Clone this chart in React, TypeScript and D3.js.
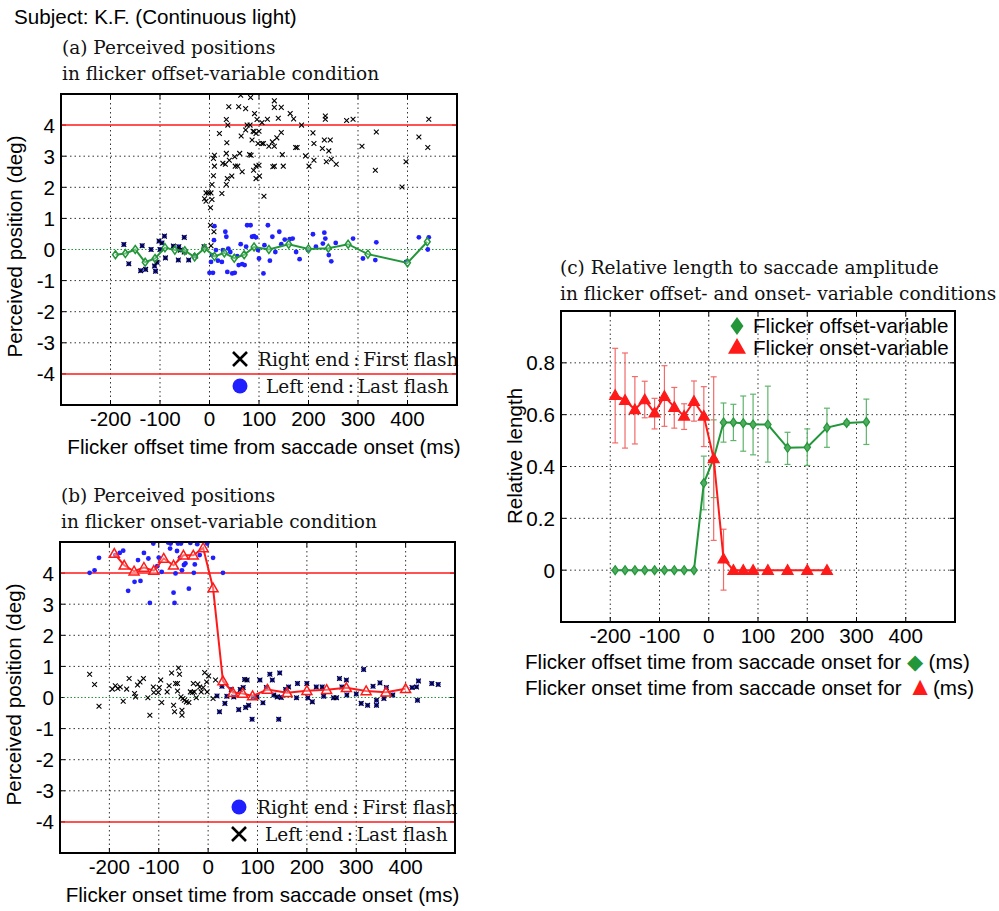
import * as d3 from "d3";

const SANS = "Liberation Sans, Arial, Helvetica, sans-serif";
const SERIF = "DejaVu Serif, serif";
const FS = 20.6;
const GREEN = "#23963a";
const RED = "#ff1a1a";
const BLUE = "#1f1fff";

const timeTicks = [-200, -100, 0, 100, 200, 300, 400];
const posTicks = [-4, -3, -2, -1, 0, 1, 2, 3, 4];
const relTicks = [0, 0.2, 0.4, 0.6, 0.8];

// (a) flicker offset-variable
const offsetMeanTime = [-190, -170, -150, -130, -110, -90, -70, -50, -30, -10, 10, 30, 50, 70, 90, 120, 160, 200, 240, 280, 320, 400, 440];
const offsetMeanPos = [-0.17, -0.13, 0.0, -0.41, -0.29, 0.06, -0.02, -0.04, -0.24, 0.04, -0.22, -0.11, -0.28, -0.17, 0.08, 0.0, 0.17, 0.02, 0.04, 0.17, -0.15, -0.43, 0.25];
// trials where both ends coincide (drawn with both markers)
const offsetPairs = [
  [-173, 0.16], [-163, -0.46], [-139, -0.68], [-129, -0.64], [-136, 0.12], [-118, 0.0], [-111, -0.53], [-109, -0.7],
  [-106, -0.41], [-102, 0.27], [-100, 0.0], [-96, 0.21], [-91, 0.43], [-89, -0.27], [-73, 0.11], [-62, 0.09],
  [-63, -0.34], [-59, -0.02], [-51, 0.39], [-51, -0.08], [-42, -0.34], [-28, -0.21], [-11, 0.09],
];
const offsetFirstFlash = [
  [3, 0.12], [9, 0.57], [2, 0.78], [2, 1.34], [5, 1.61], [-7, 1.55], [-10, 1.63], [-7, 1.82], [-2, 1.82], [3, 1.82],
  [5, 2.09], [8, 2.37], [10, 2.68], [8, 2.93], [10, 3.03], [25, 1.8], [34, 2.09], [36, 2.28], [45, 2.36], [27, 2.77],
  [32, 2.74], [34, 3.09], [40, 2.87], [51, 2.98], [52, 2.68], [57, 2.68], [61, 3.09], [66, 2.5], [81, 3.05], [84, 3.03],
  [100, 2.71], [94, 2.68], [89, 2.55], [94, 2.28], [101, 2.36], [110, 1.71], [20, 3.73], [35, 3.43], [34, 4.18], [37, 4.0],
  [39, 4.59], [59, 4.59], [63, 4.96], [73, 4.53], [83, 4.89], [91, 4.37], [96, 4.18], [106, 4.08], [117, 4.19], [131, 4.78],
  [131, 4.57], [145, 4.57], [139, 4.22], [163, 4.37], [170, 4.2], [186, 4.0], [234, 4.29], [234, 4.19], [277, 4.15], [290, 4.19],
  [443, 4.19], [76, 4.0], [82, 4.0], [88, 3.8], [90, 3.79], [94, 3.73], [100, 3.8], [98, 3.41], [106, 3.41], [86, 3.52],
  [64, 3.65], [73, 3.84], [145, 3.76], [136, 3.59], [127, 3.46], [120, 3.32], [131, 3.32], [109, 3.41], [147, 3.05], [128, 2.66],
  [131, 2.68], [149, 2.68], [174, 3.28], [177, 3.28], [194, 3.01], [201, 2.68], [211, 2.87], [211, 3.41], [209, 3.75], [228, 3.25],
  [232, 3.52], [244, 3.52], [241, 3.17], [246, 2.9], [236, 2.82], [256, 2.74], [308, 3.32], [337, 3.78], [335, 2.55], [389, 2.01],
  [397, 2.82], [423, 3.62], [441, 3.28],
];
const offsetLastFlash = [
  [0, -0.75], [7, -0.75], [3, -0.4], [5, -0.18], [9, 0.3], [10, 0.75], [13, -0.02], [17, -0.36], [25, -0.4], [27, -0.02],
  [32, 0.57], [34, 0.41], [36, -0.72], [38, 0.03], [42, -0.08], [46, -0.77], [51, -0.75], [56, -0.21], [59, -0.5], [63, 0.17],
  [66, -0.47], [71, -0.5], [74, 0.09], [76, 0.78], [83, 0.78], [86, 0.41], [90, 0.43], [94, 0.39], [98, -0.02], [100, -0.29],
  [109, -0.77], [111, 0.14], [118, 0.78], [122, -0.36], [127, 0.41], [133, -0.08], [141, 0.57], [145, 0.17], [152, 0.32], [162, 0.33],
  [168, 0.35], [175, -0.08], [182, -0.31], [199, -0.02], [209, 0.49], [215, 0.09], [229, 0.19], [232, 0.54], [234, 0.35], [241, -0.18],
  [246, -0.38], [255, 0.21], [290, 0.35], [310, -0.29], [337, 0.23], [335, -0.34], [397, -0.4], [423, 0.39], [443, 0.39], [441, 0.0],
];

// (b) flicker onset-variable
const onsetMeanTime = [-190, -170, -150, -130, -110, -90, -70, -50, -30, -10, 10, 30, 50, 70, 90, 120, 160, 200, 240, 280, 320, 360, 400];
const onsetMeanPos = [4.63, 4.25, 4.06, 4.18, 4.08, 4.47, 4.25, 4.57, 4.57, 4.81, 3.52, 0.53, 0.16, 0.13, 0.05, 0.26, 0.15, 0.22, 0.25, 0.31, 0.21, 0.17, 0.28];
const onsetFirstFlash = [
  [-240, 4.01], [-230, 4.09], [-221, 4.49], [-188, 4.58], [-179, 4.65], [-172, 4.72], [-162, 3.43], [-149, 3.72], [-137, 3.75], [-142, 4.42],
  [-130, 4.65], [-121, 4.47], [-118, 3.04], [-111, 4.95], [-103, 4.22], [-100, 4.5], [-94, 4.04], [-81, 4.98], [-76, 4.95], [-77, 4.79],
  [-70, 3.37], [-68, 3.04], [-66, 3.99], [-63, 4.71], [-57, 4.5], [-61, 4.95], [-55, 4.95], [-53, 4.09], [-49, 4.26], [-46, 4.31],
  [-39, 3.5], [-36, 4.97], [-29, 4.01], [-27, 4.28], [-22, 4.93], [-17, 4.58], [-2, 4.95], [10, 4.49], [30, 4.01],
];
const onsetLastFlash = [
  [-240, 0.75], [-230, 0.42], [-221, -0.28], [-194, 0.27], [-188, 0.38], [-183, 0.29], [-178, 0.34], [-172, -0.12], [-165, 0.27], [-160, 0.61],
  [-149, 0.13], [-147, 0.02], [-143, 0.4], [-138, 0.5], [-131, 0.61], [-122, -0.01], [-118, -0.57], [-111, 0.34], [-110, 0.16], [-101, 0.16],
  [-99, 0.32], [-96, 0.56], [-94, -0.16], [-83, 0.18], [-79, 0.38], [-74, 0.79], [-70, -0.25], [-68, -0.46], [-66, 0.45], [-62, 0.21],
  [-62, 0.45], [-60, 0.95], [-58, 0.75], [-55, 0.02], [-53, -0.41], [-53, -0.57], [-51, -0.03], [-48, -0.09], [-44, -0.14], [-39, -0.16],
  [-36, 0.18], [-32, 0.16], [-30, 0.45], [-28, 0.18], [-24, -0.01], [-21, 0.43], [-17, 0.34], [-14, 0.18], [-10, 0.32], [-7, 0.8],
  [-2, 0.18], [-3, 0.5], [1, 0.69], [10, -0.03], [15, 0.56],
];
const onsetPairs = [
  [18, 0.05], [23, -0.46], [28, 0.36], [34, -0.19], [38, 0.04], [47, 0.26], [52, 0.02], [62, -0.39], [65, 0.26], [71, 0.32],
  [74, 0.58], [79, 0.56], [76, -0.32], [82, -0.25], [89, -0.7], [91, 0.02], [99, 0.02], [105, 0.56], [111, -0.17], [118, 0.32],
  [125, 0.75], [130, 0.56], [133, 0.08], [140, 0.02], [143, -0.7], [145, 0.79], [148, 0.0], [157, 0.26], [163, 0.34], [179, -0.01],
  [181, 0.45], [200, 0.45], [202, -0.01], [211, -0.14], [219, 0.34], [231, 0.34], [234, 0.04], [254, -0.01], [260, -0.01], [266, 0.61],
  [271, 0.34], [280, 0.56], [281, 0.08], [300, 0.11], [310, -0.19], [315, 0.9], [323, -0.25], [334, 0.36], [341, -0.25], [341, -0.09],
  [348, 0.47], [356, -0.03], [361, 0.32], [374, 0.08], [413, 0.32], [422, 0.34], [424, -0.09], [426, 0.53], [453, 0.45], [466, 0.42],
];

// (c) relative length
const relOffsetTime = [-190, -170, -150, -130, -110, -90, -70, -50, -30, -10, 10, 30, 50, 70, 90, 120, 160, 200, 240, 280, 320];
const relOffsetMean = [0, 0, 0, 0, 0, 0, 0, 0, 0, 0.336, 0.43, 0.57, 0.57, 0.567, 0.562, 0.562, 0.472, 0.474, 0.55, 0.568, 0.572];
const relOffsetLow = [0, 0, 0, 0, 0, 0, 0, 0, 0, 0.233, 0.28, 0.494, 0.5, 0.459, 0.445, 0.417, 0.408, 0.404, 0.474, 0.56, 0.485];
const relOffsetHigh = [0, 0, 0, 0, 0, 0, 0, 0, 0, 0.44, 0.58, 0.645, 0.64, 0.672, 0.679, 0.71, 0.532, 0.545, 0.625, 0.576, 0.66];
const relOnsetTime = [-190, -170, -150, -130, -110, -90, -70, -50, -30, -10, 10, 30, 50, 70, 90, 120, 160, 200, 240];
const relOnsetMean = [0.675, 0.656, 0.62, 0.658, 0.607, 0.671, 0.629, 0.595, 0.652, 0.595, 0.431, 0.044, 0, 0, 0, 0, 0, 0, 0];
const relOnsetLow = [0.491, 0.471, 0.487, 0.588, 0.545, 0.555, 0.548, 0.543, 0.575, 0.477, 0.115, -0.077, 0, 0, 0, 0, 0, 0, 0];
const relOnsetHigh = [0.856, 0.838, 0.747, 0.729, 0.663, 0.789, 0.705, 0.642, 0.73, 0.708, 0.746, 0.158, 0, 0, 0, 0, 0, 0, 0];

const crossPath = (s: number) => `M${-s},${-s}L${s},${s}M${-s},${s}L${s},${-s}`;
const diamondPath = (s: number) => `M0,${-s}L${s * 0.72},0L0,${s}L${-s * 0.72},0Z`;
const trianglePath = (s: number) => `M0,${-s}L${s},${s * 0.75}L${-s},${s * 0.75}Z`;

type Box = { left: number; top: number; right: number; bottom: number };

function Frame({ box, x, y, yTicks, yFmt, gridY, id }: {
  box: Box; x: d3.ScaleLinear<number, number>; y: d3.ScaleLinear<number, number>;
  yTicks: number[]; yFmt: (v: number) => string; gridY: number[]; id: string;
}) {
  const tl = 5;
  return (
    <g>
      <defs>
        <clipPath id={id}>
          <rect x={box.left} y={box.top} width={box.right - box.left} height={box.bottom - box.top} />
        </clipPath>
      </defs>
      {timeTicks.map((t) => (
        <line key={"gx" + t} x1={x(t)} x2={x(t)} y1={box.top} y2={box.bottom} stroke="#333" strokeWidth={1} strokeDasharray="1.5,3" />
      ))}
      {gridY.map((v) => (
        <line key={"gy" + v} x1={box.left} x2={box.right} y1={y(v)} y2={y(v)} stroke="#333" strokeWidth={1} strokeDasharray="1.5,3" />
      ))}
      {timeTicks.map((t) => (
        <g key={"tx" + t}>
          <line x1={x(t)} x2={x(t)} y1={box.bottom} y2={box.bottom - tl} stroke="#000" />
          <line x1={x(t)} x2={x(t)} y1={box.top} y2={box.top + tl} stroke="#000" />
          <text x={x(t)} y={box.bottom + 21} textAnchor="middle" fontFamily={SANS} fontSize={FS}>{t}</text>
        </g>
      ))}
      {yTicks.map((v) => (
        <g key={"ty" + v}>
          <line x1={box.left} x2={box.left + tl} y1={y(v)} y2={y(v)} stroke="#000" />
          <line x1={box.right} x2={box.right - tl} y1={y(v)} y2={y(v)} stroke="#000" />
          <text x={box.left - 6} y={y(v) + 7.5} textAnchor="end" fontFamily={SANS} fontSize={FS}>{yFmt(v)}</text>
        </g>
      ))}
    </g>
  );
}

function PositionPanel({ box, title, xLabel, pairs, crosses, dots, meanTime, meanPos, meanColor, meanMarker, markerSize, legend, id }: {
  box: Box; title: string[]; xLabel: string; pairs: number[][]; crosses: number[][]; dots: number[][];
  meanTime: number[]; meanPos: number[]; meanColor: string; meanMarker: (s: number) => string; markerSize: number;
  legend: { kind: "cross" | "dot"; text: string }[]; id: string;
}) {
  const x = d3.scaleLinear().domain([-300, 500]).range([box.left, box.right]);
  const y = d3.scaleLinear().domain([-5, 5]).range([box.bottom, box.top]);
  const line = d3.line<number>().x((_, i) => x(meanTime[i])).y((d) => y(d));
  const cx = (box.left + box.right) / 2;
  const cy = (box.top + box.bottom) / 2;
  return (
    <g>
      <text fontFamily={SERIF} fontSize={18.5} fill="#111">
        <tspan x={box.left + 1} y={box.top - 40}>{title[0]}</tspan>
        <tspan x={box.left + 1} y={box.top - 14}>{title[1]}</tspan>
      </text>
      <Frame box={box} x={x} y={y} yTicks={posTicks} yFmt={(v) => String(v)} gridY={[-3, -2, -1, 1, 2, 3]} id={id} />
      <line x1={box.left} x2={box.right} y1={y(0)} y2={y(0)} stroke={GREEN} strokeWidth={1} strokeDasharray="1.5,2" />
      {[4, -4].map((v) => (
        <line key={v} x1={box.left} x2={box.right} y1={y(v)} y2={y(v)} stroke={RED} strokeWidth={1.5} />
      ))}
      <g clipPath={`url(#${id})`}>
        {dots.concat(pairs).map((d, i) => (
          <circle key={"d" + i} cx={x(d[0])} cy={y(d[1])} r={2.4} fill={BLUE} />
        ))}
        {crosses.concat(pairs).map((d, i) => (
          <path key={"c" + i} d={crossPath(2.4)} transform={`translate(${x(d[0])},${y(d[1])})`} stroke="#000" strokeWidth={1.1} fill="none" />
        ))}
        <path d={line(meanPos) ?? ""} fill="none" stroke={meanColor} strokeWidth={2} />
        {meanPos.map((v, i) => (
          <path key={"m" + i} d={meanMarker(markerSize)} transform={`translate(${x(meanTime[i])},${y(v)})`} fill="#fff" fillOpacity={0.35} stroke={meanColor} strokeWidth={1.5} />
        ))}
      </g>
      {legend.map((l, i) => {
        const ly = y(-3.52) + i * 27;
        return (
          <g key={l.text}>
            {l.kind === "cross" ? (
              <path d={crossPath(7)} transform={`translate(${box.left + 179},${ly})`} stroke="#000" strokeWidth={2.6} fill="none" />
            ) : (
              <circle cx={box.left + 179} cy={ly} r={7.5} fill={BLUE} />
            )}
            <text x={box.left + 197 + (l.text.startsWith("Left") ? 8 : 0)} y={ly + 7} fontFamily={SERIF} fontSize={18.5} fill="#111">{l.text}</text>
          </g>
        );
      })}
      <rect x={box.left} y={box.top} width={box.right - box.left} height={box.bottom - box.top} fill="none" stroke="#000" strokeWidth={2} />
      <text transform={`translate(${box.left - 39},${cy - 3}) rotate(-90)`} textAnchor="middle" fontFamily={SANS} fontSize={FS}>Perceived position (deg)</text>
      <text x={cx + 5} y={box.bottom + 49} textAnchor="middle" fontFamily={SANS} fontSize={FS}>{xLabel}</text>
    </g>
  );
}

function RelativePanel() {
  const box: Box = { left: 561, top: 311, right: 955, bottom: 622 };
  const x = d3.scaleLinear().domain([-300, 500]).range([box.left, box.right]);
  const y = d3.scaleLinear().domain([-0.2, 1.0]).range([box.bottom, box.top]);
  const series = [
    { t: relOffsetTime, m: relOffsetMean, lo: relOffsetLow, hi: relOffsetHigh, color: GREEN, bar: "#5fb46c", marker: diamondPath, size: 4.5, fill: "#4fae5e" },
    { t: relOnsetTime, m: relOnsetMean, lo: relOnsetLow, hi: relOnsetHigh, color: RED, bar: "#f26b6b", marker: trianglePath, size: 5.5, fill: RED },
  ];
  return (
    <g>
      <text fontFamily={SERIF} fontSize={18.5} fill="#111">
        <tspan x={560} y={274}>(c) Relative length to saccade amplitude</tspan>
        <tspan x={560} y={300}>in flicker offset- and onset- variable conditions</tspan>
      </text>
      <Frame box={box} x={x} y={y} yTicks={relTicks} yFmt={(v) => (v === 0 ? "0" : d3.format(".1f")(v))} gridY={relTicks} id="clipc" />
      <g clipPath="url(#clipc)">
        {series.map((s, k) => {
          const line = d3.line<number>().x((_, i) => x(s.t[i])).y((d) => y(d));
          return (
            <g key={k}>
              {s.t.map((t, i) =>
                s.hi[i] - s.lo[i] > 0.002 ? (
                  <g key={i} stroke={s.bar} strokeWidth={1.2}>
                    <line x1={x(t)} x2={x(t)} y1={y(s.lo[i])} y2={y(s.hi[i])} />
                    <line x1={x(t) - 3} x2={x(t) + 3} y1={y(s.lo[i])} y2={y(s.lo[i])} />
                    <line x1={x(t) - 3} x2={x(t) + 3} y1={y(s.hi[i])} y2={y(s.hi[i])} />
                  </g>
                ) : null
              )}
              <path d={line(s.m) ?? ""} fill="none" stroke={s.color} strokeWidth={2} />
              {s.m.map((v, i) => (
                <path key={"m" + i} d={s.marker(s.size)} transform={`translate(${x(s.t[i])},${y(v)})`} fill={s.fill} stroke={s.color} strokeWidth={1.2} />
              ))}
            </g>
          );
        })}
      </g>
      <path d={diamondPath(9)} transform="translate(737,326)" fill={GREEN} />
      <text x={753} y={333} fontFamily={SANS} fontSize={FS}>Flicker offset-variable</text>
      <path d={trianglePath(9)} transform="translate(737,347)" fill={RED} />
      <text x={753} y={355} fontFamily={SANS} fontSize={FS}>Flicker onset-variable</text>
      <rect x={box.left} y={box.top} width={box.right - box.left} height={box.bottom - box.top} fill="none" stroke="#000" strokeWidth={2} />
      <text transform={`translate(522,456) rotate(-90)`} textAnchor="middle" fontFamily={SANS} fontSize={FS}>Relative length</text>
      <text x={525} y={669} fontFamily={SANS} fontSize={FS}>
        Flicker offset time from saccade onset for <tspan fill={GREEN}>◆</tspan> (ms)
      </text>
      <text x={525} y={695} fontFamily={SANS} fontSize={FS}>
        Flicker onset time from saccade onset for <tspan fill={RED} fontSize={26}>▲</tspan>(ms)
      </text>
    </g>
  );
}

export default function App() {
  return (
    <svg width={999} height={911} style={{ position: "absolute", left: 0, top: 0, background: "#fff" }}>
      <rect width={999} height={911} fill="#fff" />
      <text x={14} y={24} fontFamily={SANS} fontSize={FS}>Subject: K.F. (Continuous light)</text>
      <PositionPanel
        id="clipa"
        box={{ left: 61, top: 94, right: 457, bottom: 405 }}
        title={["(a) Perceived positions", "in flicker offset-variable condition"]}
        xLabel="Flicker offset time from saccade onset (ms)"
        pairs={offsetPairs}
        crosses={offsetFirstFlash}
        dots={offsetLastFlash}
        meanTime={offsetMeanTime}
        meanPos={offsetMeanPos}
        meanColor={GREEN}
        meanMarker={diamondPath}
        markerSize={4}
        legend={[{ kind: "cross", text: "Right end\u2009:\u2009First flash" }, { kind: "dot", text: "Left end\u2009:\u2009Last flash" }]}
      />
      <PositionPanel
        id="clipb"
        box={{ left: 60, top: 542, right: 455, bottom: 853 }}
        title={["(b) Perceived positions", "in flicker onset-variable condition"]}
        xLabel="Flicker onset time from saccade onset (ms)"
        pairs={onsetPairs}
        crosses={onsetLastFlash}
        dots={onsetFirstFlash}
        meanTime={onsetMeanTime}
        meanPos={onsetMeanPos}
        meanColor={RED}
        meanMarker={trianglePath}
        markerSize={5}
        legend={[{ kind: "dot", text: "Right end\u2009:\u2009First flash" }, { kind: "cross", text: "Left end\u2009:\u2009Last flash" }]}
      />
      <RelativePanel />
    </svg>
  );
}
